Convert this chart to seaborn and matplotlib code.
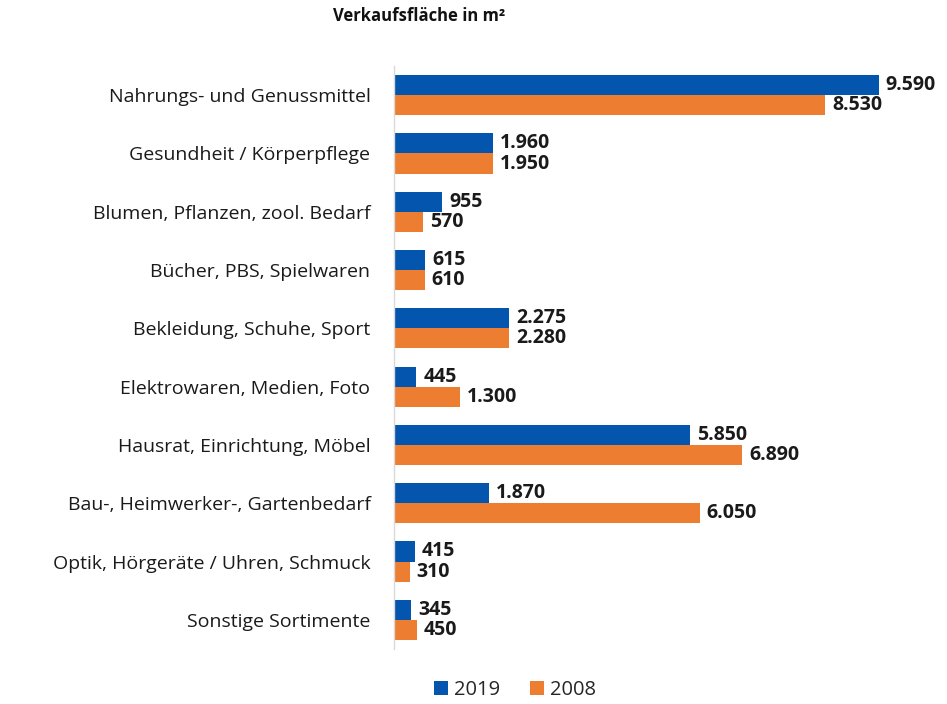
import pandas as pd
import matplotlib.pyplot as plt
import seaborn as sns

# Daten
kategorien = [
    'Nahrungs- und Genussmittel',
    'Gesundheit / Körperpflege',
    'Blumen, Pflanzen, zool. Bedarf',
    'Bücher, PBS, Spielwaren',
    'Bekleidung, Schuhe, Sport',
    'Elektrowaren, Medien, Foto',
    'Hausrat, Einrichtung, Möbel',
    'Bau-, Heimwerker-, Gartenbedarf',
    'Optik, Hörgeräte / Uhren, Schmuck',
    'Sonstige Sortimente',
]
werte_2019 = [9590, 1960, 955, 615, 2275, 445, 5850, 1870, 415, 345]
werte_2008 = [8530, 1950, 570, 610, 2280, 1300, 6890, 6050, 310, 450]
jahre = ['2019', '2008']
farben = ['#0455AE', '#ED7D31']

df = pd.DataFrame({
    'Kategorie': kategorien * 2,
    'Jahr': [jahre[0]] * len(kategorien) + [jahre[1]] * len(kategorien),
    'Fläche': werte_2019 + werte_2008,
})

sns.set_theme(style='white')
plt.rcParams['font.family'] = ['Open Sans', 'DejaVu Sans']

fig = plt.figure(figsize=(9.47, 7.04), dpi=100)
ax = fig.add_axes([394 / 947, 1 - 649 / 704, 0.555, 583 / 704])

sns.barplot(data=df, y='Kategorie', x='Fläche', hue='Jahr', hue_order=jahre,
            palette=farben, orient='h', width=0.69, saturation=1,
            order=kategorien, linewidth=0, ax=ax)

def tausender(v):
    return f'{int(round(v)):,}'.replace(',', '.')

for cont in ax.containers:
    ax.bar_label(cont, labels=[tausender(b.get_width()) for b in cont],
                 padding=5, fontsize=14, fontweight='bold', color='#1a1a1a')

ax.set_xlim(0, 10400)
ax.set_xlabel('')
ax.set_ylabel('')
ax.set_xticks([])
ax.tick_params(axis='y', labelsize=14, length=0, pad=17, colors='#1a1a1a')
for s in ['top', 'right', 'bottom']:
    ax.spines[s].set_visible(False)
ax.spines['left'].set_color('#d9d9d9')
ax.spines['left'].set_linewidth(1)

ax.legend(loc='center', bbox_to_anchor=(515 / 947, 1 - 690 / 704),
          bbox_transform=fig.transFigure, ncol=2,
          frameon=False, fontsize=14.5, handlelength=0.7, handleheight=0.7,
          columnspacing=1.5, handletextpad=0.3, borderpad=0.1)

fig.text(419 / 947, 1 - 16 / 704, 'Verkaufsfläche in m²', ha='center', va='center',
         fontsize=12, fontweight='bold', color='#111111')

fig.savefig('out.png', dpi=100)
